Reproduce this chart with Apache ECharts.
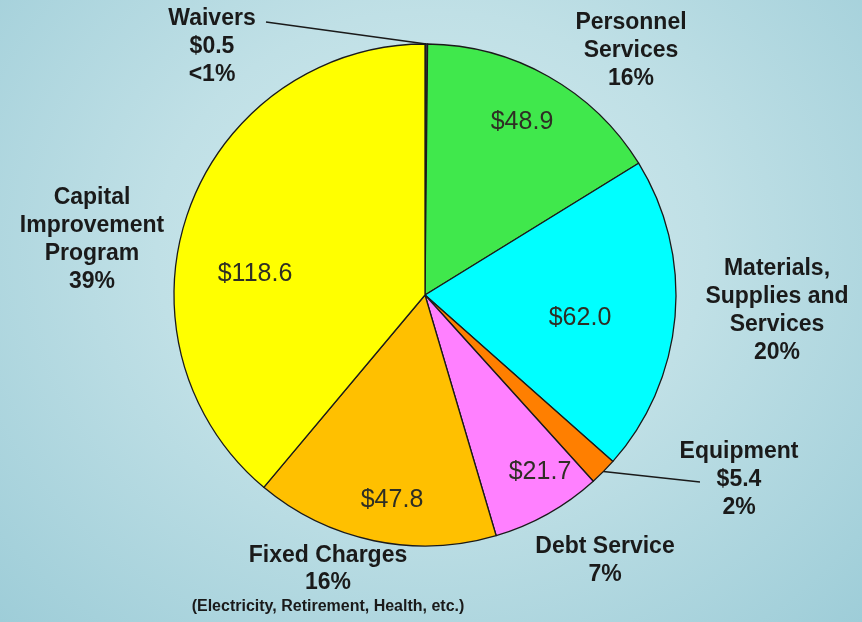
<!DOCTYPE html>
<html>
<head>
<meta charset="utf-8">
<script src="https://cdn.jsdelivr.net/npm/echarts@6/dist/echarts.min.js"></script>
<style>
html,body{margin:0;padding:0;}
#c{width:862px;height:622px;background:radial-gradient(ellipse at 50% 40%, #d3ebef 0%, #c0e0e6 45%, #9ecdd8 100%);}
</style>
</head>
<body>
<div id="c"></div>
<script>
// Data (millions of dollars)
const categories = ['Waivers', 'Personnel Services', 'Materials, Supplies and Services', 'Equipment', 'Debt Service', 'Fixed Charges', 'Capital Improvement Program'];
const values = [0.5, 48.9, 62.0, 5.4, 21.7, 47.8, 118.6];
const percentLabels = ['<1%', '16%', '20%', '2%', '7%', '16%', '39%'];
const outsideText = [
  'Waivers\n$0.5\n<1%',
  'Personnel\nServices\n16%',
  'Materials,\nSupplies and\nServices\n20%',
  'Equipment\n$5.4\n2%',
  'Debt Service\n7%',
  '{b|Fixed Charges}\n{b|16%}\n{s|(Electricity, Retirement, Health, etc.)}',
  'Capital\nImprovement\nProgram\n39%'
];
const insideText = ['', '$48.9', '$62.0', '', '$21.7', '$47.8', '$118.6'];

// Styling / layout (kept separate from data)
const colors = ['#3a3a4a', '#40e84c', '#00ffff', '#ff7f00', '#ff80ff', '#ffc000', '#ffff00'];
const outsidePos = [[212, 47], [631, 51], [777, 311], [739, 480], [605, 561], [328, 580], [92, 240]];
const insidePos = [[522, 122], [580, 318], [540, 472], [392, 500], [255, 274]];
const insideIdx = [1, 2, 4, 5, 6];
const lineEnds = {0: [266, 22], 3: [700, 482]};

const chart = echarts.init(document.getElementById('c'), null, {renderer: 'canvas'});

const baseData = categories.map((n, i) => ({name: n, value: values[i], itemStyle: {color: colors[i]}}));
const FONT = 'Liberation Sans, Arial, sans-serif';

chart.setOption({
  backgroundColor: 'transparent',
  animation: false,
  series: [
    {
      type: 'pie',
      center: [425, 295],
      radius: 251,
      startAngle: 90,
      clockwise: true,
      avoidLabelOverlap: false,
      silent: true,
      itemStyle: {borderColor: '#1a1a1a', borderWidth: 1.3},
      label: {
        show: true,
        position: 'outside',
        formatter: p => outsideText[p.dataIndex],
        fontFamily: FONT,
        fontWeight: 'bold',
        fontSize: 23,
        lineHeight: 28,
        color: '#1a1a1a',
        align: 'center',
        rich: {
          b: {fontFamily: FONT, fontWeight: 'bold', fontSize: 23, lineHeight: 27, color: '#1a1a1a', align: 'center'},
          s: {fontFamily: FONT, fontWeight: 'bold', fontSize: 16, lineHeight: 22, color: '#1a1a1a', align: 'center'}
        }
      },
      labelLine: {show: true, lineStyle: {color: '#1a1a1a', width: 1.5}},
      labelLayout: p => {
        const i = p.dataIndex;
        const o = {x: outsidePos[i][0], y: outsidePos[i][1], align: 'center', verticalAlign: 'middle'};
        if (lineEnds[i]) {
          const a = p.labelLinePoints ? p.labelLinePoints[0] : null;
          if (a) o.labelLinePoints = [[a[0], a[1]], [a[0], a[1]], lineEnds[i]];
        }
        return o;
      },
      data: baseData.map((d, i) => Object.assign({}, d, {labelLine: {show: !!lineEnds[i]}}))
    },
    {
      type: 'pie',
      center: [425, 295],
      radius: 251,
      startAngle: 90,
      clockwise: true,
      avoidLabelOverlap: false,
      silent: true,
      z: 5,
      itemStyle: {color: 'rgba(0,0,0,0)', borderWidth: 0},
      label: {
        show: true,
        position: 'inside',
        formatter: p => insideText[p.dataIndex],
        fontFamily: FONT,
        fontSize: 25,
        color: '#2e2e24',
        textBorderWidth: 0
      },
      labelLine: {show: false},
      labelLayout: p => {
        const k = insideIdx.indexOf(p.dataIndex);
        if (k < 0) return {};
        return {x: insidePos[k][0], y: insidePos[k][1], align: 'center', verticalAlign: 'middle'};
      },
      data: baseData.map(d => ({name: d.name, value: d.value, itemStyle: {color: 'rgba(0,0,0,0)'}}))
    }
  ]
});
</script>
</body>
</html>
